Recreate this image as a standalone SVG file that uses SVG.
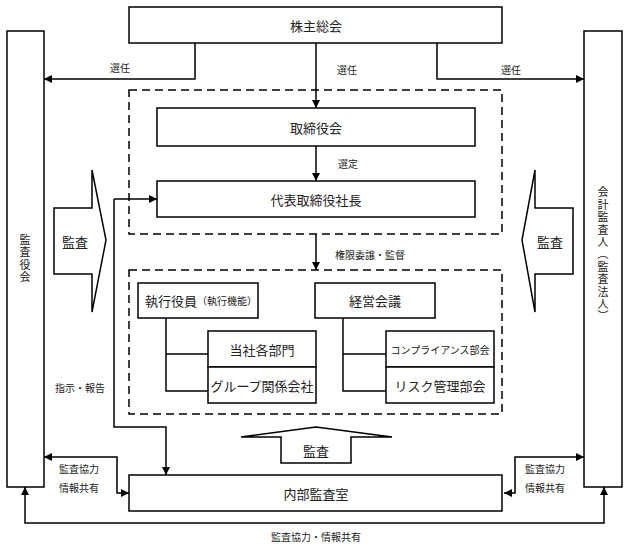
<svg xmlns="http://www.w3.org/2000/svg" width="628" height="546" viewBox="0 0 628 546">
<defs>
<marker id="ah" viewBox="0 0 10 10" refX="10" refY="5" markerWidth="8" markerHeight="8" markerUnits="userSpaceOnUse" orient="auto-start-reverse">
<path d="M0,0 L10,5 L0,10 z" fill="#000"/>
</marker>
</defs>
<style>
text{font-family:"Noto Sans CJK JP","Noto Sans CJK SC",sans-serif;fill:#222;text-anchor:middle;dominant-baseline:central}
.box{fill:#fff;stroke:#000;stroke-width:1.5}
.dash{fill:none;stroke:#000;stroke-width:1.5;stroke-dasharray:8,5}
.ln{fill:none;stroke:#000;stroke-width:1.5}
.arr{fill:none;stroke:#000;stroke-width:1.5;marker-end:url(#ah)}
.arr2{fill:none;stroke:#000;stroke-width:1.5;marker-end:url(#ah);marker-start:url(#ah)}
.big{fill:#fff;stroke:#000;stroke-width:1.5;stroke-linejoin:miter}
.t13{font-size:13px}
.t10{font-size:10px}
text.vt{writing-mode:vertical-rl;font-size:11px;letter-spacing:1.4px;dominant-baseline:auto}
</style>
<rect width="628" height="546" fill="#fff"/>

<g id="frames">
<rect class="dash" x="129" y="90" width="373" height="144"/>
<rect class="dash" x="129" y="270" width="373" height="144"/>
</g>

<g id="connectors">
<path class="arr" d="M195,43 V79 H44"/>
<path class="arr" d="M316,43 V108"/>
<path class="arr" d="M437,43 V79 H584"/>
<path class="arr" d="M316,146 V181"/>
<path class="arr" d="M316,234 V270"/>
<path class="ln" d="M166,318 V391 H208 M166,354 H208"/>
<path class="ln" d="M343,318 V391 H386 M343,354 H386"/>
<path class="arr" d="M114,199 H157"/>
<path class="arr" d="M114,199 V427 H166 V475"/>
<path class="arr2" d="M44,457 H117 V493 H129"/>
<path class="arr2" d="M584,457 H515 V493 H504"/>
<path class="arr2" d="M25,487 V523 H604 V487"/>
<text class="t10" x="120" y="67">選任</text>
<text class="t10" x="347" y="69">選任</text>
<text class="t10" x="511" y="69">選任</text>
<text class="t10" x="348" y="163">選定</text>
<text class="t10" x="370" y="254">権限委譲・監督</text>
<text class="t10" x="80" y="387">指示・報告</text>
<text class="t10" x="79" y="468">監査協力</text>
<text class="t10" x="79" y="487">情報共有</text>
<text class="t10" x="545" y="468">監査協力</text>
<text class="t10" x="545" y="487">情報共有</text>
<text class="t10" x="316" y="536">監査協力・情報共有</text>
</g>

<g id="shareholders">
<rect class="box" x="129" y="7" width="373" height="36"/>
<text class="t13" x="316" y="25">株主総会</text>
</g>

<g id="auditors-board">
<rect class="box" x="7" y="31" width="37" height="456"/>
<text class="vt" x="25" y="259">監査役会</text>
</g>

<g id="accounting-auditor">
<rect class="box" x="584" y="31" width="38" height="456"/>
<text class="vt" x="603" y="255">会計監査人（監査法人）</text>
</g>

<g id="board">
<rect class="box" x="157" y="108" width="318" height="38"/>
<text class="t13" x="316" y="127">取締役会</text>
</g>

<g id="president">
<rect class="box" x="157" y="181" width="318" height="36"/>
<text class="t13" x="316" y="199">代表取締役社長</text>
</g>

<g id="officers">
<rect class="box" x="138" y="283" width="120" height="35"/>
<text x="145" y="300" style="text-anchor:start"><tspan font-size="13px">執行役員</tspan><tspan font-size="10px">（執行機能）</tspan></text>
</g>

<g id="mgmt-meeting">
<rect class="box" x="315" y="283" width="120" height="35"/>
<text class="t13" x="375" y="300">経営会議</text>
</g>

<g id="depts">
<rect class="box" x="208" y="331" width="108" height="36"/>
<text class="t13" x="262" y="349">当社各部門</text>
</g>

<g id="group">
<rect class="box" x="208" y="367" width="108" height="36"/>
<text class="t13" x="262" y="385">グループ関係会社</text>
</g>

<g id="compliance">
<rect class="box" x="386" y="331" width="108" height="36"/>
<text class="t10" x="440" y="349">コンプライアンス部会</text>
</g>

<g id="risk">
<rect class="box" x="386" y="367" width="108" height="36"/>
<text class="t13" x="440" y="385">リスク管理部会</text>
</g>

<g id="internal-audit">
<rect class="box" x="129" y="475" width="373" height="36"/>
<text class="t13" x="316" y="493">内部監査室</text>
</g>

<g id="audit-left">
<path class="big" d="M54,208 H92 V170 L106,240 L92,312 V274 H54 Z"/>
<text class="t13" x="75" y="241">監査</text>
</g>

<g id="audit-right">
<path class="big" d="M573,208 H535 V170 L522,240 L535,312 V274 H573 Z"/>
<text class="t13" x="550" y="241">監査</text>
</g>

<g id="audit-bottom">
<path class="big" d="M281,463 V437 H241 L316,427 L392,437 H351 V463 Z"/>
<text class="t13" x="316" y="450">監査</text>
</g>
</svg>
